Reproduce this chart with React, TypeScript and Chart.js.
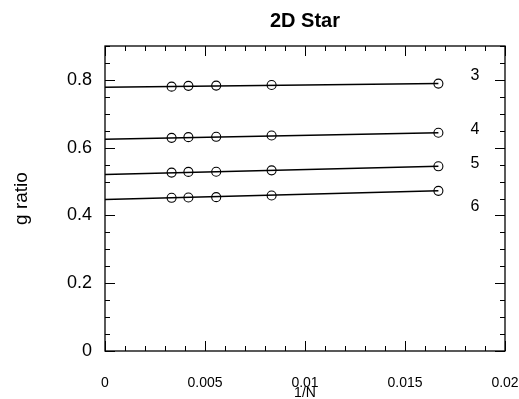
import React, { useEffect, useRef } from "react";
import { Chart, registerables } from "chart.js";

Chart.register(...registerables);

// ---- data ----
const invN = [0.00333, 0.00417, 0.00556, 0.00833, 0.01667];
const series3 = [0.780, 0.7824, 0.7832, 0.785, 0.789];
const series4 = [0.629, 0.631, 0.632, 0.636, 0.644];
const series5 = [0.5265, 0.5285, 0.529, 0.533, 0.545];
const series6 = [0.452, 0.453, 0.454, 0.459, 0.4726];
const fitIntercepts = [0.7785, 0.6245, 0.5206, 0.447];
const seriesNames = ["3", "4", "5", "6"];
const labelX = [0.0185, 0.0185, 0.0185, 0.0185];
const labelY = [0.812, 0.653, 0.553, 0.425];
const xTicks = [0, 0.005, 0.01, 0.015, 0.02];
const yTicks = [0, 0.2, 0.4, 0.6, 0.8];

const FONT = "'Liberation Sans', Arial, Helvetica, sans-serif";

const framePlugin = {
  id: "frame",
  afterDraw(chart: any) {
    const { ctx, chartArea: a, scales } = chart;
    const xs = scales.x;
    const ys = scales.y;
    ctx.save();
    ctx.strokeStyle = "#000";
    ctx.lineWidth = 1.3;
    ctx.strokeRect(a.left, a.top, a.right - a.left, a.bottom - a.top);
    ctx.lineWidth = 1;
    ctx.beginPath();
    for (let i = 0; i <= 20; i++) {
      const v = i * 0.001;
      const px = Math.round(xs.getPixelForValue(v)) + 0.5;
      const len = i % 5 === 0 ? 10 : 5;
      ctx.moveTo(px, a.bottom);
      ctx.lineTo(px, a.bottom - len);
      ctx.moveTo(px, a.top);
      ctx.lineTo(px, a.top + len);
    }
    for (let i = 0; i <= 18; i++) {
      const v = i * 0.05;
      const py = Math.round(ys.getPixelForValue(v)) + 0.5;
      const len = i % 4 === 0 ? 10 : 5;
      ctx.moveTo(a.left, py);
      ctx.lineTo(a.left + len, py);
      ctx.moveTo(a.right, py);
      ctx.lineTo(a.right - len, py);
    }
    ctx.stroke();

    ctx.fillStyle = "#000";
    ctx.font = `16px ${FONT}`;
    ctx.textAlign = "center";
    ctx.textBaseline = "middle";
    seriesNames.forEach((n, i) => {
      ctx.fillText(n, xs.getPixelForValue(labelX[i]), ys.getPixelForValue(labelY[i]));
    });
    ctx.restore();
  },
};

export default function App() {
  const ref = useRef<HTMLCanvasElement | null>(null);

  useEffect(() => {
    if (!ref.current) return;
    const all = [series3, series4, series5, series6];
    const datasets: any[] = [];
    all.forEach((s, i) => {
      datasets.push({
        data: [
          { x: 0, y: fitIntercepts[i] },
          { x: invN[invN.length - 1], y: s[s.length - 1] },
        ],
        showLine: true,
        borderColor: "#000",
        borderWidth: 1.5,
        pointRadius: 0,
        fill: false,
      });
      datasets.push({
        data: invN.map((x, j) => ({ x, y: s[j] })),
        showLine: false,
        pointStyle: "circle",
        pointRadius: 4.5,
        pointBorderWidth: 1.1,
        pointBorderColor: "#000",
        pointBackgroundColor: "rgba(0,0,0,0)",
        borderColor: "#000",
      });
    });

    const chart = new Chart(ref.current, {
      type: "scatter",
      data: { datasets },
      plugins: [framePlugin],
      options: {
        responsive: false,
        animation: false,
        layout: { padding: { top: 0, right: 14, bottom: 0, left: 0 } },
        plugins: {
          legend: { display: false },
          tooltip: { enabled: false },
          title: {
            display: true,
            text: "2D Star",
            fullSize: false,
            color: "#000",
            font: { family: FONT, size: 20, weight: "bold", lineHeight: 1.2 },
            padding: { top: 9.5, bottom: 12.5 },
          },
        },
        scales: {
          x: {
            type: "linear",
            min: 0,
            max: 0.02,
            grid: { display: false, drawTicks: false },
            border: { display: false },
            afterBuildTicks: (s: any) => {
              s.ticks = xTicks.map((v) => ({ value: v }));
            },
            afterFit: (s: any) => {
              s.height = 48;
              s.paddingLeft = 0;
              s.paddingRight = 0;
            },
            ticks: {
              color: "#000",
              font: { family: FONT, size: 14 },
              padding: 24,
              maxRotation: 0,
              autoSkip: false,
              callback: (v: any) => String(v),
            },
            title: {
              display: true,
              text: "1/N",
              color: "#000",
              font: { family: FONT, size: 14, lineHeight: 1 },
              padding: { top: 0, bottom: -1 },
            },
          },
          y: {
            type: "linear",
            min: 0,
            max: 0.9,
            grid: { display: false, drawTicks: false },
            border: { display: false },
            afterBuildTicks: (s: any) => {
              s.ticks = yTicks.map((v) => ({ value: v }));
            },
            afterFit: (s: any) => {
              s.width = 105;
              s.paddingTop = 0;
              s.paddingBottom = 0;
            },
            ticks: {
              color: "#000",
              font: { family: FONT, size: 18 },
              padding: 13,
              callback: (v: any) => String(v),
            },
            title: {
              display: true,
              text: "g ratio",
              color: "#000",
              font: { family: FONT, size: 19, lineHeight: 1.2 },
              padding: { top: 10, bottom: 0 },
            },
          },
        },
      },
    });
    return () => chart.destroy();
  }, []);

  return (
    <div style={{ position: "fixed", left: 0, top: 0, width: 519, height: 399, background: "#fff" }}>
      <canvas ref={ref} width={519} height={399} style={{ width: 519, height: 399 }} />
    </div>
  );
}
